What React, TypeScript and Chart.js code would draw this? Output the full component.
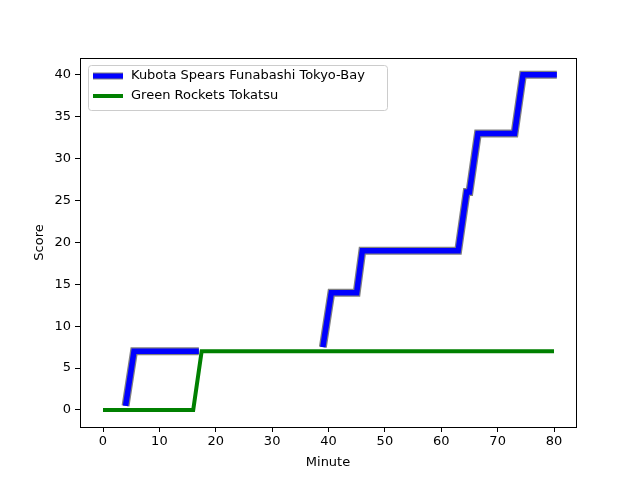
import React, { useEffect, useRef } from 'react'
import { Chart, registerables } from 'chart.js'

Chart.register(...registerables)

const kubotaMinutes = [4, 5.5, 17, 17.1, 39, 40.5, 45, 46, 63, 64.5, 65, 66.5, 73, 74.5, 80.5]
const kubotaScores = [0.5, 7, 7, null, 7.5, 14, 14, 19, 19, 26, 26, 33, 33, 40, 40]
const rocketsMinutes = [0, 16, 17.5, 80]
const rocketsScores = [0, 0, 7, 7]
const seriesNames = ['Kubota Spears Funabashi Tokyo-Bay', 'Green Rockets Tokatsu']
const axisTitles = ['Minute', 'Score']

const toPoints = (xs: number[], ys: (number | null)[]) => xs.map((x, i) => ({ x, y: ys[i] }))

const FONT = 'DejaVu Sans'

const frameAndLegend = {
  id: 'frameAndLegend',
  afterDraw(chart: Chart) {
    const { ctx, chartArea: a } = chart
    ctx.save()
    ctx.strokeStyle = '#000'
    ctx.lineWidth = 1
    ctx.strokeRect(a.left + 0.5, a.top + 0.5, a.right - a.left, a.bottom - a.top)
    // axis titles
    ctx.fillStyle = '#000'
    ctx.font = `13px "${FONT}"`
    ctx.textAlign = 'center'
    ctx.textBaseline = 'middle'
    ctx.fillText(axisTitles[0], (a.left + a.right) / 2, 463)
    ctx.save()
    ctx.translate(40, (a.top + a.bottom) / 2)
    ctx.rotate(-Math.PI / 2)
    ctx.fillText(axisTitles[1], 0, 0)
    ctx.restore()
    // legend box
    const lx = 88, ly = 65, lw = 299, lh = 45
    ctx.fillStyle = 'rgba(255,255,255,0.8)'
    ctx.strokeStyle = '#ccc'
    ctx.beginPath()
    ctx.roundRect(lx + 0.5, ly + 0.5, lw, lh, 3)
    ctx.fill()
    ctx.stroke()
    ctx.lineCap = 'butt'
    ctx.strokeStyle = 'gray'
    ctx.lineWidth = 7
    ctx.beginPath(); ctx.moveTo(93, 76); ctx.lineTo(123, 76); ctx.stroke()
    ctx.strokeStyle = 'blue'
    ctx.lineWidth = 5
    ctx.beginPath(); ctx.moveTo(93, 76); ctx.lineTo(123, 76); ctx.stroke()
    ctx.strokeStyle = 'green'
    ctx.lineWidth = 4
    ctx.beginPath(); ctx.moveTo(93, 96); ctx.lineTo(123, 96); ctx.stroke()
    ctx.fillStyle = '#000'
    ctx.textAlign = 'left'
    ctx.fillText(seriesNames[0], 131, 76)
    ctx.fillText(seriesNames[1], 131, 96)
    ctx.restore()
  },
}

export default function App() {
  const canvasRef = useRef<HTMLCanvasElement>(null)

  useEffect(() => {
    document.body.style.margin = '0'
    const ctx = canvasRef.current?.getContext('2d')
    if (!ctx) return
    const tickFont = { family: FONT, size: 13 }
    const chart = new Chart(ctx, {
      type: 'line',
      data: {
        datasets: [
          {
            label: seriesNames[1],
            data: toPoints(rocketsMinutes, rocketsScores),
            borderColor: 'green',
            borderWidth: 4,
            pointRadius: 0,
            tension: 0,
          },
          {
            label: seriesNames[0],
            data: toPoints(kubotaMinutes, kubotaScores) as any,
            borderColor: 'blue',
            borderWidth: 5.5,
            pointRadius: 0,
            spanGaps: false,
            tension: 0,
          },
          {
            label: 'outline',
            data: toPoints(kubotaMinutes, kubotaScores) as any,
            borderColor: 'gray',
            borderWidth: 8,
            pointRadius: 0,
            spanGaps: false,
            tension: 0,
          },
        ],
      },
      options: {
        animation: false,
        responsive: false,
        layout: { padding: { top: 58, right: 64, left: 0, bottom: 0 } },
        plugins: { legend: { display: false }, tooltip: { enabled: false } },
        scales: {
          x: {
            type: 'linear',
            min: -4.08,
            max: 83.9,
            afterBuildTicks: (s) => { s.ticks = [0, 10, 20, 30, 40, 50, 60, 70, 80].map((v) => ({ value: v })) },
            afterFit: (s) => { s.height = 53 },
            grid: { drawOnChartArea: false, drawTicks: true, tickLength: 5, color: '#000' },
            border: { color: '#000' },
            ticks: { color: '#000', font: tickFont, maxRotation: 0, padding: 2 },
          },
          y: {
            type: 'linear',
            min: -2.03,
            max: 42.0,
            afterBuildTicks: (s) => { s.ticks = [0, 5, 10, 15, 20, 25, 30, 35, 40].map((v) => ({ value: v })) },
            afterFit: (s) => { s.width = 80 },
            grid: { drawOnChartArea: false, drawTicks: true, tickLength: 5, color: '#000' },
            border: { color: '#000' },
            ticks: { color: '#000', font: tickFont, padding: 4 },
          },
        },
      },
      plugins: [frameAndLegend],
    })
    return () => chart.destroy()
  }, [])

  return <canvas ref={canvasRef} width={640} height={480} />
}
